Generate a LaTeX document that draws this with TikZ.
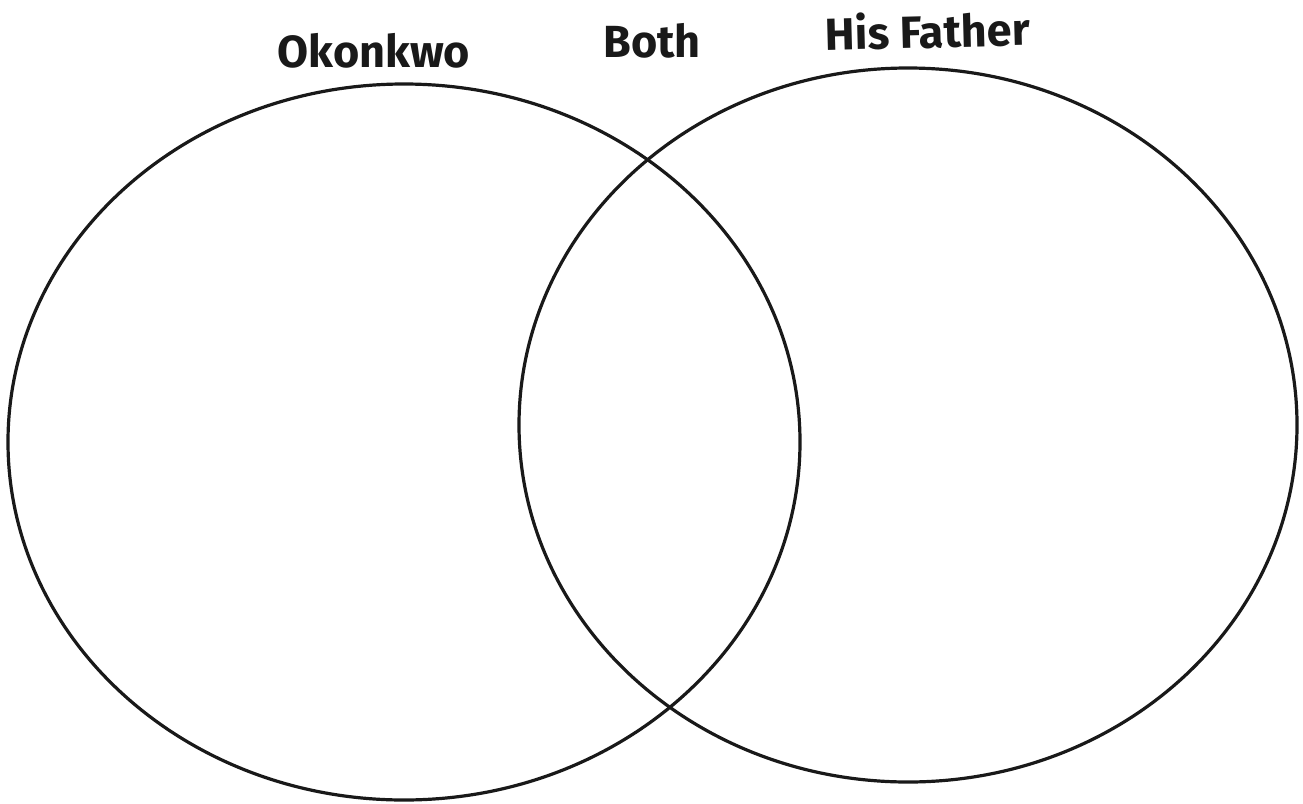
\documentclass[tikz,border=0pt]{standalone}
\usepackage{fontspec}
\setsansfont{Fira Sans}
\usetikzlibrary{shapes.geometric}
\tikzset{
  setring/.style={draw=black!90, line width=3.2pt, ellipse, inner sep=0pt},
  setlabel/.style={font=\sffamily\bfseries\fontsize{45}{50}\selectfont, text=black!90, inner sep=0pt, anchor=base}
}
\begin{document}
\begin{tikzpicture}[x=1pt,y=-1pt]
\useasboundingbox[fill=white] (0,0) rectangle (1303,803);
\node[setring, minimum width=792pt, minimum height=716pt] (okonkwo) at (404,442) {};
\node[setring, minimum width=778pt, minimum height=714pt] (father) at (908,425) {};
\node[setlabel] (lokonkwo) at (374,67) {Okonkwo};
\node[setlabel] (lboth) at (652,57) {Both};
\node[setlabel, rotate=1.5] (lfather) at (928,48) {His Father};
\end{tikzpicture}
\end{document}
